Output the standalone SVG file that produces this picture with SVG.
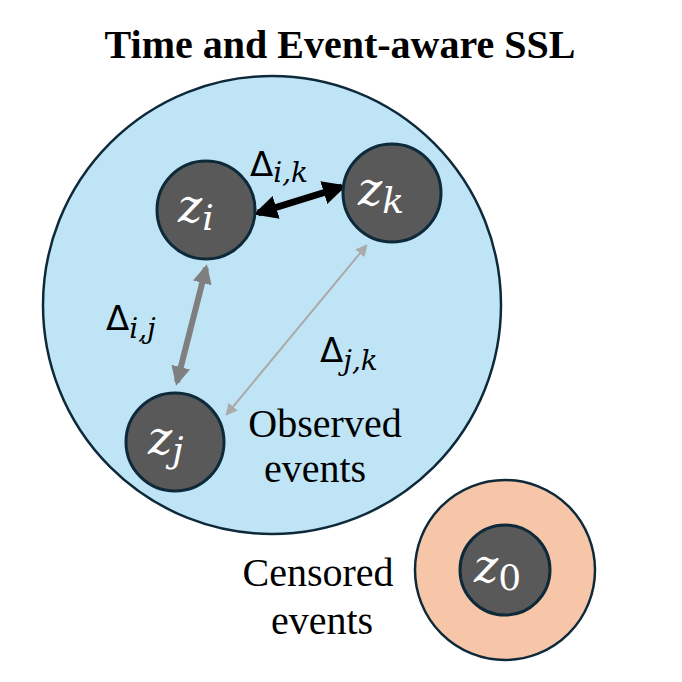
<svg xmlns="http://www.w3.org/2000/svg" width="682" height="682" viewBox="0 0 682 682">
<style>
.node{fill:#595959;stroke:#0e2a3a;stroke-width:3}
.zt{font-family:"DejaVu Serif",serif;font-style:italic;font-size:46px;fill:#fff}
.zs{font-size:36px}
.lab{font-family:"Liberation Serif",serif;font-size:40px;fill:#000}
.d{font-family:"DejaVu Sans",sans-serif;font-size:34px;fill:#000}
.ds{font-family:"DejaVu Serif",serif;font-style:italic;font-size:28px}
</style>
<defs>
<marker id="ab" viewBox="0 0 10 10" refX="8" refY="5" markerWidth="3.4" markerHeight="3.4" orient="auto-start-reverse"><path d="M0,0L10,5L0,10z" fill="#000"/></marker>
<marker id="ag" viewBox="0 0 10 10" refX="8" refY="5" markerWidth="3.2" markerHeight="3.2" orient="auto-start-reverse"><path d="M0,0L10,5L0,10z" fill="#7f7f7f"/></marker>
<marker id="al" viewBox="0 0 10 10" refX="8" refY="5" markerWidth="6" markerHeight="6" orient="auto-start-reverse"><path d="M0,0L10,5L0,10z" fill="#aaa"/></marker>
</defs>
<text x="340" y="58" text-anchor="middle" font-family="Liberation Serif,serif" font-weight="bold" font-size="40">Time and Event-aware SSL</text>
<g id="observed">
<circle cx="272" cy="305" r="229" fill="#bfe4f6" stroke="#0e2a3a" stroke-width="2.5"/>
<text class="lab" x="325" y="437" text-anchor="middle">Observed</text>
<text class="lab" x="315" y="482" text-anchor="middle">events</text>
</g>
<g id="censored">
<circle cx="505" cy="570" r="90" fill="#f7c6a8" stroke="#0e2a3a" stroke-width="2.5"/>
<text class="lab" x="318" y="586" text-anchor="middle">Censored</text>
<text class="lab" x="322" y="634" text-anchor="middle">events</text>
</g>
<g id="connectors">
<line x1="258" y1="213" x2="342" y2="187" stroke="#000" stroke-width="7" marker-start="url(#ab)" marker-end="url(#ab)"/>
<line x1="206" y1="268" x2="177" y2="382" stroke="#7f7f7f" stroke-width="6" marker-start="url(#ag)" marker-end="url(#ag)"/>
<line x1="366" y1="246" x2="227" y2="414" stroke="#aaa" stroke-width="2" marker-start="url(#al)" marker-end="url(#al)"/>
<text class="d" x="250" y="176">Δ<tspan class="ds" dy="6">i,k</tspan></text>
<text class="d" x="106" y="330">Δ<tspan class="ds" dy="8">i,j</tspan></text>
<text class="d" x="320" y="362">Δ<tspan class="ds" dy="8">j,k</tspan></text>
</g>
<g id="zi"><circle class="node" cx="206" cy="210" r="49"/><text class="zt" x="178" y="222">z<tspan class="zs" dy="8">i</tspan></text></g>
<g id="zk"><circle class="node" cx="392" cy="193" r="49"/><text class="zt" x="358" y="205">z<tspan class="zs" dy="8">k</tspan></text></g>
<g id="zj"><circle class="node" cx="175" cy="442" r="49"/><text class="zt" x="148" y="454">z<tspan class="zs" dy="8">j</tspan></text></g>
<g id="z0"><circle class="node" cx="505" cy="570" r="45"/><text class="zt" x="474" y="582">z<tspan class="zs" dy="8" font-style="normal">0</tspan></text></g>
</svg>
